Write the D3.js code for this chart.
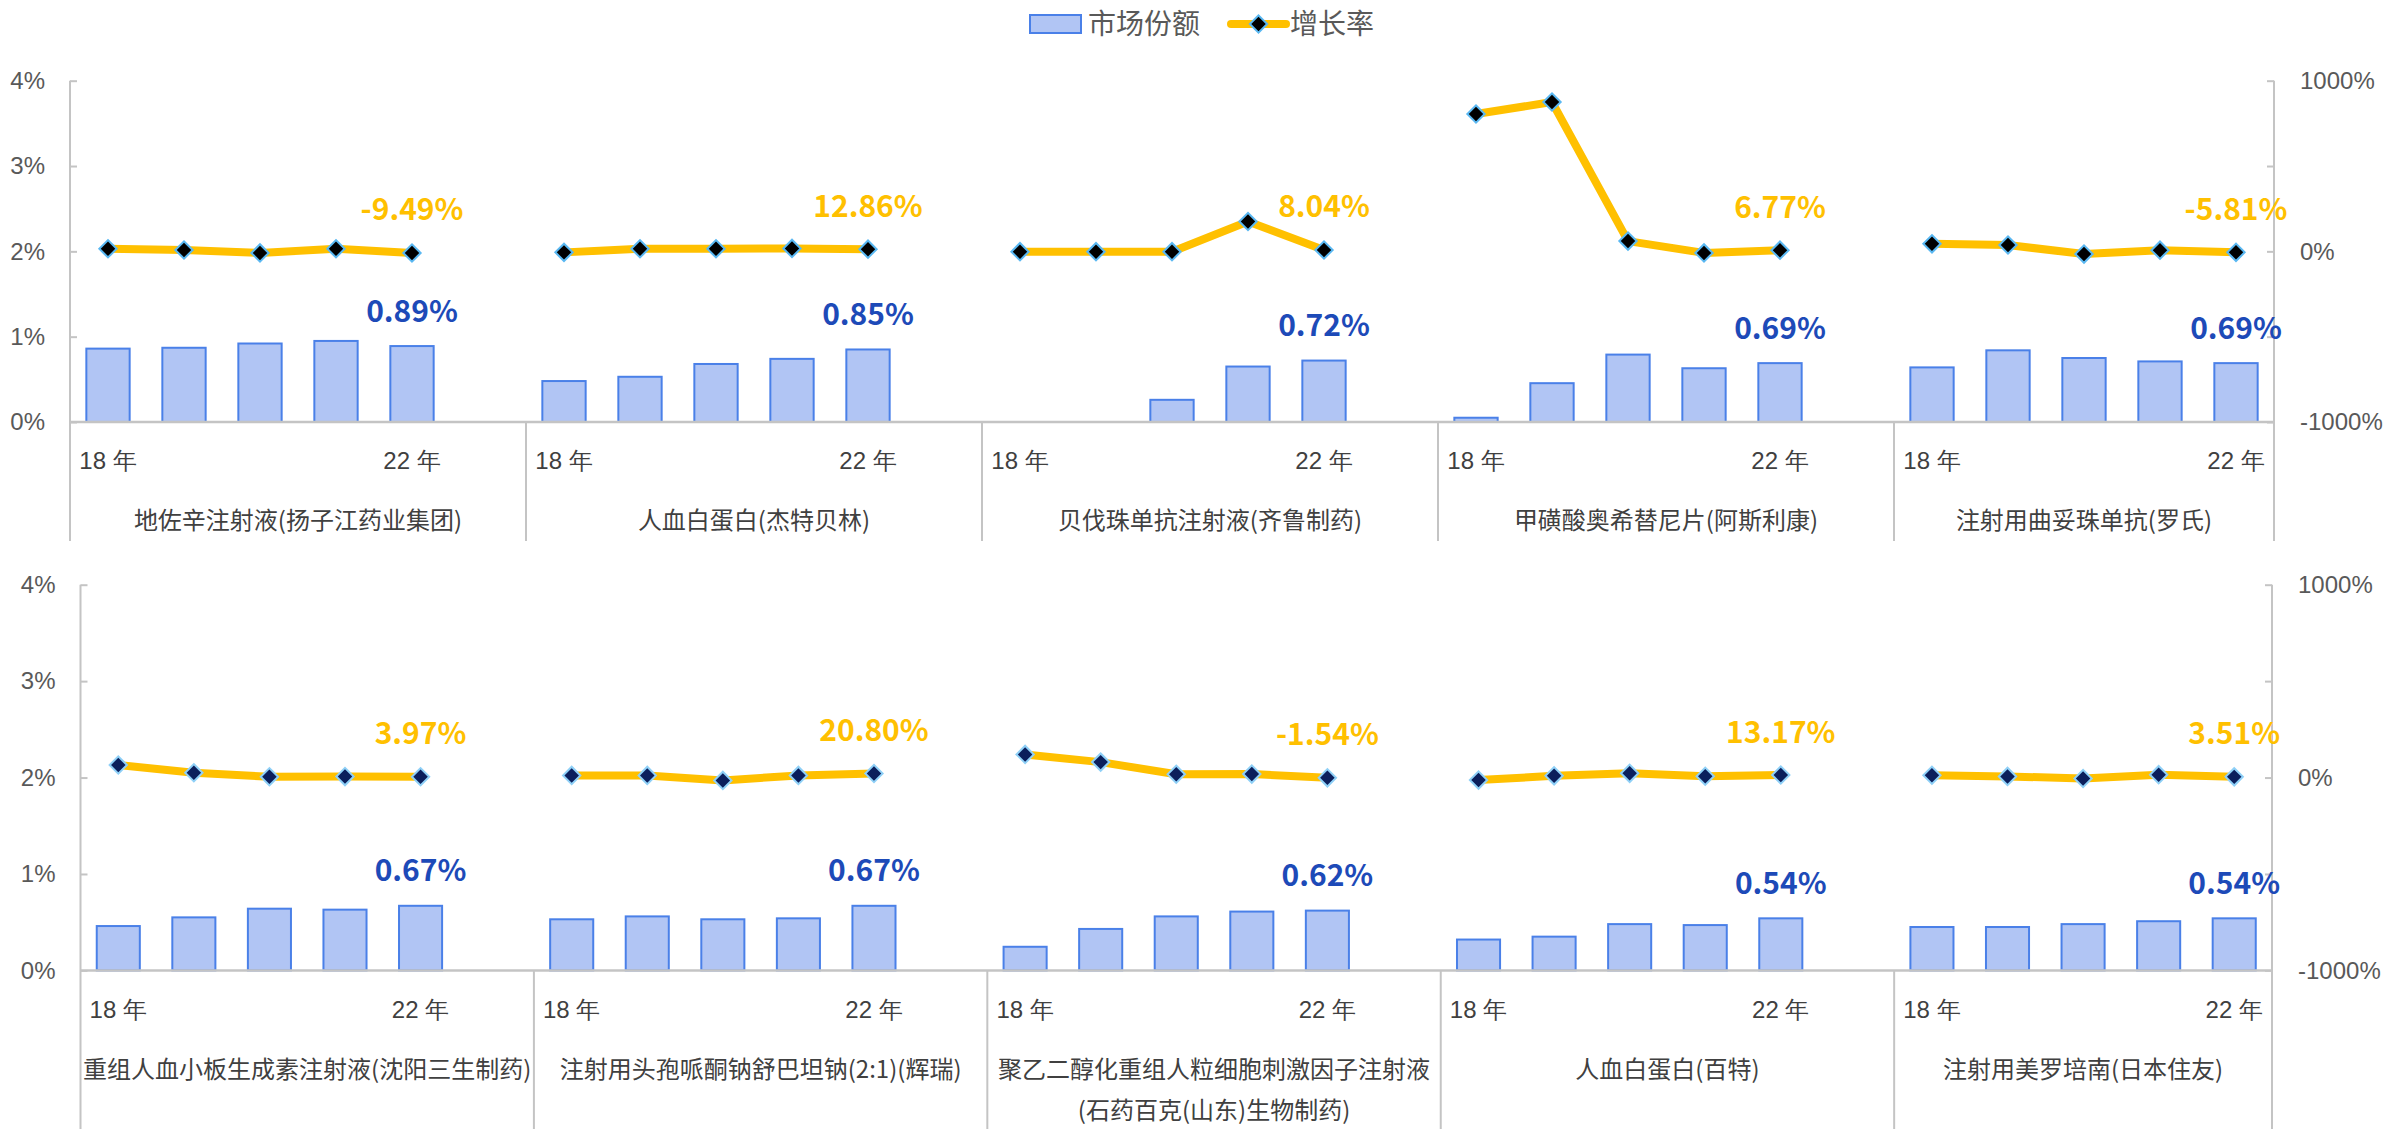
<!DOCTYPE html>
<html>
<head>
<meta charset="utf-8">
<script src="https://cdn.jsdelivr.net/npm/d3@7"></script>
<style>
  body { margin: 0; background: #fff; }
  svg { display: block; font-family: "Microsoft YaHei", "Noto Sans CJK SC", sans-serif; }
  .tick text { fill: #595959; font-size: 24px; }
  .cat text { fill: #404040; font-size: 24px; }
</style>
</head>
<body>
<div id="chart"></div>
<script>
// years shown on the category axis (only first and last are labelled)
const years = ["18 年", "", "", "", "22 年"];

// top row
const productsTop = [
    "地佐辛注射液(扬子江药业集团)",
    "人血白蛋白(杰特贝林)",
    "贝伐珠单抗注射液(齐鲁制药)",
    "甲磺酸奥希替尼片(阿斯利康)",
    "注射用曲妥珠单抗(罗氏)"
];
const shareTop = [
    [0.86, 0.87, 0.92, 0.95, 0.89],
    [0.48, 0.53, 0.68, 0.74, 0.85],
    [0, 0, 0.26, 0.65, 0.72],
    [0.05, 0.455, 0.79, 0.63, 0.69],
    [0.64, 0.84, 0.75, 0.71, 0.69]
];
const growthTop = [
    [15, 8, -9, 15, -9.49],
    [-6, 15, 15, 17, 12.86],
    [-2, -2, -2, 175, 8.04],
    [805, 875, 60, -9, 6.77],
    [44, 37, -16, 7, -5.81]
];

// bottom row
const productsBottom = [
    "重组人血小板生成素注射液(沈阳三生制药)",
    "注射用头孢哌酮钠舒巴坦钠(2:1)(辉瑞)",
    "聚乙二醇化重组人粒细胞刺激因子注射液(石药百克(山东)生物制药)",
    "人血白蛋白(百特)",
    "注射用美罗培南(日本住友)"
];
const shareBottom = [
    [0.46, 0.55, 0.64, 0.63, 0.67],
    [0.53, 0.56, 0.53, 0.54, 0.67],
    [0.245, 0.43, 0.56, 0.61, 0.62],
    [0.32, 0.35, 0.48, 0.47, 0.54],
    [0.45, 0.45, 0.48, 0.51, 0.54]
];
const growthBottom = [
    [65, 25, 4, 5, 3.97],
    [11, 11, -15, 11, 20.80],
    [120, 80, 17, 18, -1.54],
    [-13, 9, 22, 7, 13.17],
    [12, 6, -5, 15, 3.51]
];

const shareTicks = [0, 1, 2, 3, 4];
const growthTicks = [-1000, -500, 0, 500, 1000];

const width = 2392;
const height = 1129;

const barFill = "#b1c5f4";
const barStroke = "#4a80e8";
const lineColor = "#ffc000";
const axisColor = "#c4c4c4";

const svg = d3.select("#chart")
    .append("svg")
    .attr("width", width)
    .attr("height", height);

// legend
const legend = svg.append("g");
legend.append("rect")
    .attr("x", 1030).attr("y", 15).attr("width", 51).attr("height", 18)
    .attr("fill", barFill).attr("stroke", barStroke).attr("stroke-width", 2);
legend.append("text")
    .attr("x", 1088).attr("y", 24).attr("dy", "0.35em")
    .attr("font-size", 28).attr("fill", "#595959")
    .text("市场份额");
legend.append("line")
    .attr("x1", 1231).attr("x2", 1286).attr("y1", 24).attr("y2", 24)
    .attr("stroke", lineColor).attr("stroke-width", 8).attr("stroke-linecap", "round");
legend.append("path")
    .attr("transform", "translate(1258.5,24) rotate(45)")
    .attr("d", d3.symbol(d3.symbolSquare, 150)())
    .attr("fill", "#000").attr("stroke", "#5ab8f2").attr("stroke-width", 2);
legend.append("text")
    .attr("x", 1290).attr("y", 24).attr("dy", "0.35em")
    .attr("font-size", 28).attr("fill", "#595959")
    .text("增长率");

// wrap a CJK label by characters, never ending a line on "("
function wrapLabel(textSel, str, maxW) {
    const lines = [];
    let cur = "";
    for (const ch of str) {
        textSel.text(cur + ch);
        if (textSel.node().getComputedTextLength() > maxW && cur) {
            let carry = "";
            if (cur.endsWith("(")) { carry = "("; cur = cur.slice(0, -1); }
            lines.push(cur);
            cur = carry + ch;
        } else {
            cur = cur + ch;
        }
    }
    lines.push(cur);
    return lines;
}

function drawPanel(cfg) {
    const { products, shares, growths, left, right, y0, y4, bottom, markerFill, markerStroke } = cfg;
    const g = svg.append("g");

    const nSlots = products.length * 6 - 1;
    const x = d3.scaleBand().domain(d3.range(nSlots)).range([left, right]);
    const yL = d3.scaleLinear().domain([0, 4]).range([y0, y4]);
    const yR = d3.scaleLinear().domain([-1000, 1000]).range([y0, y4]);
    const bw = x.bandwidth() * 0.57;
    const cx = i => x(i) + x.bandwidth() / 2;

    // left axis
    const ax = g.append("g").attr("transform", `translate(${left},0)`)
        .call(d3.axisLeft(yL).tickValues(shareTicks).tickFormat(d => d + "%")
            .tickSizeInner(-7).tickSizeOuter(0).tickPadding(25));
    ax.select(".domain").remove();
    ax.selectAll("line").attr("stroke", axisColor).attr("stroke-width", 2);

    // right axis
    const ar = g.append("g").attr("transform", `translate(${right},0)`)
        .call(d3.axisRight(yR).tickValues(growthTicks)
            .tickFormat(d => d % 1000 === 0 ? d + "%" : "")
            .tickSizeInner(-7).tickSizeOuter(0).tickPadding(26));
    ar.select(".domain").remove();
    ar.selectAll("line").attr("stroke", axisColor).attr("stroke-width", 2);
    g.selectAll(".tick text").attr("font-size", 24).attr("fill", "#595959");

    // vertical axis lines, extended down through the category area
    [left, right].forEach(px => g.append("line")
        .attr("x1", px).attr("x2", px).attr("y1", y4).attr("y2", bottom)
        .attr("stroke", axisColor).attr("stroke-width", 2));

    // group separators
    products.forEach((p, gi) => {
        if (gi === 0) return;
        const sx = x(gi * 6);
        g.append("line")
            .attr("x1", sx).attr("x2", sx).attr("y1", y0).attr("y2", bottom)
            .attr("stroke", axisColor).attr("stroke-width", 2);
    });

    // bars
    products.forEach((p, gi) => {
        g.selectAll(null)
            .data(shares[gi].map((v, i) => ({ v, slot: gi * 6 + i })).filter(d => d.v > 0))
            .enter().append("rect")
            .attr("x", d => cx(d.slot) - bw / 2)
            .attr("y", d => yL(d.v))
            .attr("width", bw)
            .attr("height", d => y0 - yL(d.v))
            .attr("fill", barFill)
            .attr("stroke", barStroke)
            .attr("stroke-width", 2);
    });

    // category axis line
    g.append("line")
        .attr("x1", left).attr("x2", right).attr("y1", y0).attr("y2", y0)
        .attr("stroke", axisColor).attr("stroke-width", 2.5);

    // year labels
    const xa = g.append("g").attr("class", "cat").attr("transform", `translate(0,${y0})`)
        .call(d3.axisBottom(x).tickSize(0).tickFormat(i => i % 6 < 5 ? years[i % 6] : ""));
    xa.select(".domain").remove();
    xa.selectAll("text").attr("y", 39).attr("dy", "0.35em")
        .attr("font-size", 24).attr("fill", "#404040");

    // group labels
    products.forEach((p, gi) => {
        const gx0 = x(gi * 6);
        const gx1 = gi < products.length - 1 ? x(gi * 6 + 5) + x.bandwidth() : right;
        const t = g.append("text")
            .attr("text-anchor", "middle")
            .attr("font-size", 24).attr("fill", "#404040");
        const lines = wrapLabel(t, p, gx1 - gx0);
        t.text(null);
        lines.forEach((ln, li) => {
            t.append("tspan")
                .attr("x", (gx0 + gx1) / 2)
                .attr("y", y0 + 99 + li * 41.5)
                .attr("dy", "0.35em")
                .text(ln);
        });
    });

    // growth lines and markers
    const line = d3.line().x(d => cx(d.slot)).y(d => yR(d.v));
    products.forEach((p, gi) => {
        const pts = growths[gi].map((v, i) => ({ v, slot: gi * 6 + i }));
        g.append("path")
            .datum(pts)
            .attr("d", line)
            .attr("fill", "none")
            .attr("stroke", lineColor)
            .attr("stroke-width", 8)
            .attr("stroke-linejoin", "round");
        g.selectAll(null).data(pts).enter().append("path")
            .attr("transform", d => `translate(${cx(d.slot)},${yR(d.v)}) rotate(45)`)
            .attr("d", d3.symbol(d3.symbolSquare, 150)())
            .attr("fill", markerFill)
            .attr("stroke", markerStroke)
            .attr("stroke-width", 2);

        // value labels on the latest year
        const last = 4;
        const slot = gi * 6 + last;
        g.append("text")
            .attr("x", cx(slot)).attr("y", yR(growths[gi][last]) - 43).attr("dy", "0.35em")
            .attr("text-anchor", "middle")
            .attr("font-size", 30).attr("font-weight", "bold").attr("fill", lineColor)
            .text(growths[gi][last].toFixed(2) + "%");
        g.append("text")
            .attr("x", cx(slot)).attr("y", yL(shares[gi][last]) - 35).attr("dy", "0.35em")
            .attr("text-anchor", "middle")
            .attr("font-size", 30).attr("font-weight", "bold").attr("fill", "#1d4ab8")
            .text(shares[gi][last].toFixed(2) + "%");
    });
}

drawPanel({
    products: productsTop, shares: shareTop, growths: growthTop,
    left: 70, right: 2274, y0: 422, y4: 80.7, bottom: 541,
    markerFill: "#000000", markerStroke: "#5ab8f2"
});
drawPanel({
    products: productsBottom, shares: shareBottom, growths: growthBottom,
    left: 80.5, right: 2272, y0: 970.4, y4: 584.7, bottom: 1129,
    markerFill: "#0b1f5c", markerStroke: "#8fd0f7"
});
</script>
</body>
</html>
